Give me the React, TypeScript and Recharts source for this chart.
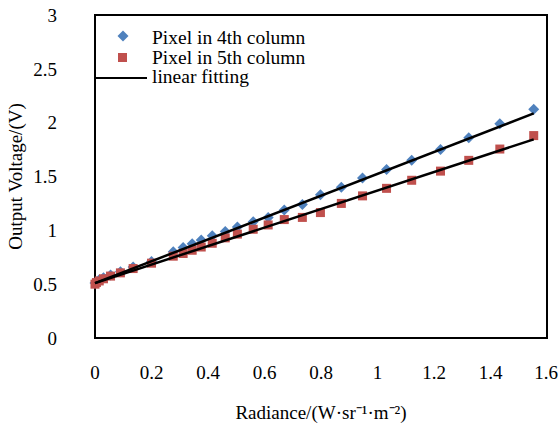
import React from 'react';
import { ScatterChart, Scatter, XAxis, YAxis, ReferenceArea } from 'recharts';

const radiance = [0.0, 0.005, 0.015, 0.03, 0.055, 0.09, 0.135, 0.2, 0.277, 0.312, 0.344, 0.376, 0.415, 0.461, 0.504, 0.56, 0.613, 0.67, 0.734, 0.798, 0.872, 0.947, 1.032, 1.121, 1.223, 1.323, 1.433, 1.553];
const col4 = [0.51, 0.52, 0.54, 0.56, 0.585, 0.615, 0.66, 0.71, 0.8, 0.84, 0.875, 0.91, 0.95, 0.99, 1.03, 1.08, 1.12, 1.19, 1.24, 1.33, 1.4, 1.486, 1.565, 1.65, 1.75, 1.86, 1.99, 2.125];
const col5 = [0.5, 0.515, 0.53, 0.55, 0.575, 0.605, 0.645, 0.695, 0.76, 0.785, 0.815, 0.845, 0.88, 0.93, 0.965, 1.01, 1.05, 1.1, 1.12, 1.165, 1.25, 1.32, 1.39, 1.465, 1.55, 1.65, 1.755, 1.88];
const fitX = [0.0, 1.553];
const fit4Y = [0.51, 2.086];
const fit5Y = [0.51, 1.845];
const xTicks = [0, 0.2, 0.4, 0.6, 0.8, 1, 1.2, 1.4, 1.6];
const yTicks = [0, 0.5, 1, 1.5, 2, 2.5, 3];
const legendLabels = ['Pixel in 4th column', 'Pixel in 5th column', 'linear fitting'];

const data4 = radiance.map((x, i) => ({ x, y: col4[i] }));
const data5 = radiance.map((x, i) => ({ x, y: col5[i] }));
const fit4 = fitX.map((x, i) => ({ x, y: fit4Y[i] }));
const fit5 = fitX.map((x, i) => ({ x, y: fit5Y[i] }));

const BLUE = '#4F81BD';
const RED = '#C0504D';
const FONT = '"Liberation Serif", "Times New Roman", serif';

const Diamond = (props: any) => {
  const { cx, cy } = props;
  const r = 5.5;
  return <path d={`M${cx},${cy - r}L${cx + r},${cy}L${cx},${cy + r}L${cx - r},${cy}Z`} fill={BLUE} />;
};
const Square = (props: any) => {
  const { cx, cy } = props;
  const s = 4.5;
  return <rect x={cx - s} y={cy - s} width={2 * s} height={2 * s} fill={RED} />;
};
const Empty = () => <g />;

const LegendBox = () => (
  <svg width={420} height={100} style={{ position: 'absolute', left: 0, top: 0 }}>
    <path d="M123,30.5L128.5,36L123,41.5L117.5,36Z" fill={BLUE} />
    <rect x={118} y={53} width={9} height={9} fill={RED} />
    <line x1={95} y1={78} x2={147} y2={78} stroke="#000" strokeWidth={2} />
    <g fontFamily={FONT} fontSize={19.5} fill="#000">
      <text x={152} y={44}>{legendLabels[0]}</text>
      <text x={152} y={64}>{legendLabels[1]}</text>
      <text x={152} y={83}>{legendLabels[2]}</text>
    </g>
  </svg>
);

export default function App() {
  return (
    <div style={{ position: 'absolute', left: 0, top: 0, width: 558, height: 425, background: '#fff' }}>
      <ScatterChart width={558} height={425} margin={{ top: 15, right: 11, bottom: 0, left: 0 }}>
        <XAxis
          type="number"
          dataKey="x"
          domain={[0, 1.6]}
          ticks={xTicks}
          tickLine={false}
          axisLine={{ stroke: '#000', strokeWidth: 2 }}
          tick={{ fill: '#000', fontSize: 19, fontFamily: FONT }}
          tickMargin={22}
          height={87}
          label={{ value: 'Radiance/(W·sr⁻¹·m⁻²)', position: 'insideBottom', offset: 6, fill: '#000', fontSize: 19, fontFamily: FONT }}
        />
        <YAxis
          type="number"
          dataKey="y"
          domain={[0, 3]}
          ticks={yTicks}
          tickLine={false}
          axisLine={{ stroke: '#000', strokeWidth: 2 }}
          tick={{ fill: '#000', fontSize: 19, fontFamily: FONT }}
          tickMargin={32}
          width={95}
          label={{ value: 'Output Voltage/(V)', angle: -90, position: 'insideLeft', offset: 15, fill: '#000', fontSize: 19, fontFamily: FONT, style: { textAnchor: 'middle' } }}
        />
        <ReferenceArea x1={0} x2={1.6} y1={0} y2={3} fill="none" stroke="#000" strokeWidth={2} ifOverflow="visible" />
        <Scatter data={data4} shape={<Diamond />} isAnimationActive={false} />
        <Scatter data={data5} shape={<Square />} isAnimationActive={false} />
        <Scatter data={fit4} line={{ stroke: '#000', strokeWidth: 2.5 }} shape={<Empty />} isAnimationActive={false} />
        <Scatter data={fit5} line={{ stroke: '#000', strokeWidth: 2.5 }} shape={<Empty />} isAnimationActive={false} />
      </ScatterChart>
      <LegendBox />
    </div>
  );
}
